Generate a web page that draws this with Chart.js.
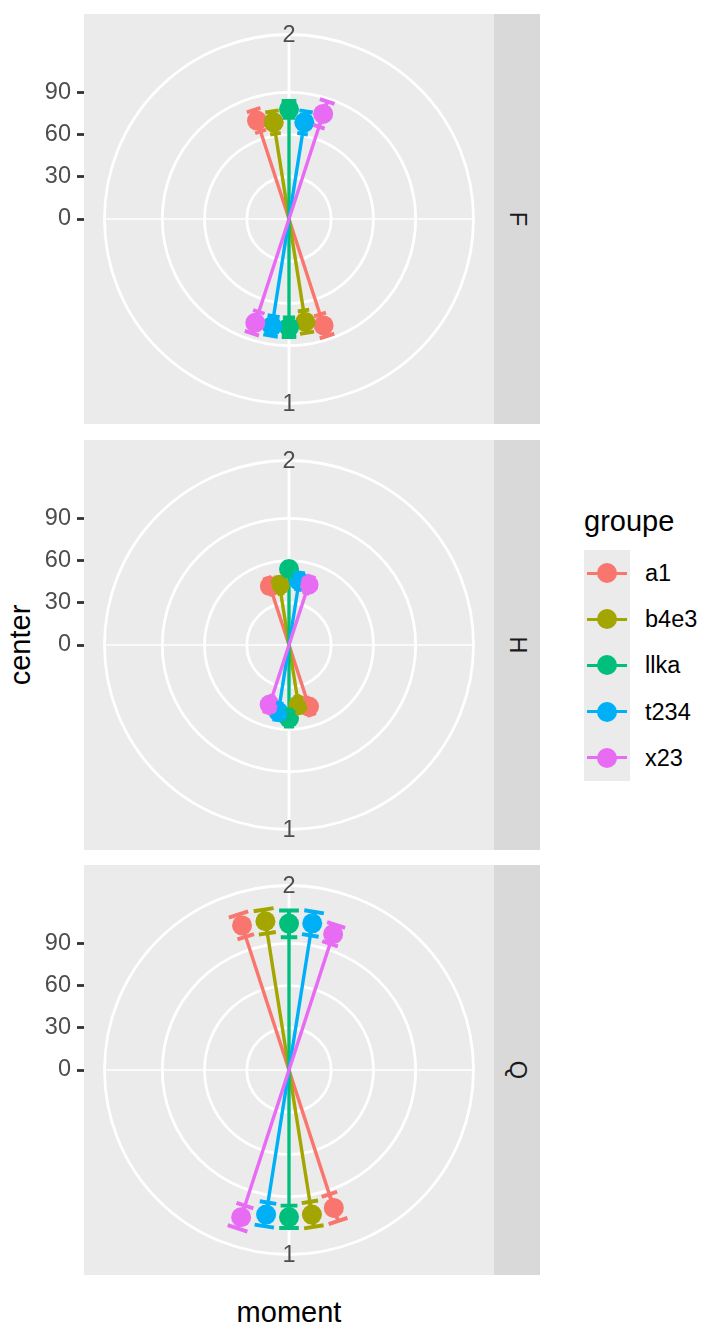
<!doctype html>
<html lang="en">
  <head>
    <meta charset="utf-8">
    <title>center by moment, polar facets</title>
    <style>
      * {
        margin: 0;
        padding: 0;
      }
      body {
        width: 702px;
        height: 1330px;
        position: relative;
        background: #ffffff;
        font-family: "Liberation Sans", Arial, sans-serif;
        overflow: hidden;
      }
      .panelBox {
        position: absolute;
        left: 40px;
        width: 454px;
        height: 410px;
      }
      .strip {
        position: absolute;
        left: 494px;
        width: 46px;
        height: 410px;
        background: #D9D9D9;
      }
      .strip span {
        position: absolute;
        left: 50%;
        top: 50%;
        font-size: 23.5px;
        line-height: 1;
        color: #1A1A1A;
        transform: translate(-50%, -50%) rotate(90deg);
      }
      .axisTitle {
        position: absolute;
        font-size: 29px;
        line-height: 1;
        color: #000000;
        white-space: nowrap;
      }
      .legendTitle {
        position: absolute;
        left: 584px;
        top: 507px;
        font-size: 29px;
        line-height: 1;
        color: #000000;
      }
      .keys {
        position: absolute;
        left: 584px;
        top: 550px;
        width: 46px;
        background: #EBEBEB;
      }
      .key {
        position: relative;
        height: 46.2px;
      }
      .key .ln {
        position: absolute;
        left: 3px;
        width: 40px;
        top: 21.5px;
        height: 3.2px;
      }
      .key .dot {
        position: absolute;
        left: 13px;
        top: 13.1px;
        width: 20px;
        height: 20px;
        border-radius: 50%;
      }
      .keyLabel {
        position: absolute;
        left: 645px;
        font-size: 23.5px;
        line-height: 46.2px;
        color: #000000;
      }
    </style>
  </head>
  <body>
    <div id="root"></div>
    <div class="axisTitle" id="yTitle" style="left:20px; top:645px; transform: translate(-50%, -50%) rotate(-90deg);">center</div>
    <div class="axisTitle" style="left:289px; top:1298px; transform: translateX(-50%);">moment</div>
    <div class="legendTitle">groupe</div>
    <div class="keys" id="keys"></div>

    <script src="https://cdn.jsdelivr.net/npm/chart.js"></script>
    <script>
    // data
    const facets = ['F', 'H', 'Q'];
    const groups = ['a1', 'b4e3', 'llka', 't234', 'x23'];
    const moments = ['1', '2'];
    const groupColors = ['#F8766D', '#A3A500', '#00BF7D', '#00B0F6', '#E76BF3'];
    const rTicks = [0, 30, 60, 90];

    // center at moment 1 and moment 2, one value per groupe
    const centerF1 = [79.5, 74, 77, 77, 77.5];
    const centerF2 = [73.5, 69.5, 78, 69.5, 78.5];
    const centerH1 = [46, 43, 52, 48, 44.5];
    const centerH2 = [44, 43, 54, 46, 45];
    const centerQ1 = [103, 104, 104.5, 104, 110];
    const centerQ2 = [108, 107, 104, 105.5, 101.5];

    // error bar half width
    const errF1 = [8, 8, 7, 7, 8];
    const errF2 = [8, 8, 6, 8, 9.5];
    const errH1 = [6, 6, 6, 6, 6];
    const errH2 = [6, 6, 5, 6, 6];
    const errQ1 = [10, 9, 8, 8.5, 8.5];
    const errQ2 = [8.3, 8.5, 9.5, 8.5, 7];

    const centers = [[centerF1, centerF2], [centerH1, centerH2], [centerQ1, centerQ2]];
    const errs = [[errF1, errF2], [errH1, errH2], [errQ1, errQ2]];
    const panelTops = [14, 440, 865];

    // polar setup
    const rMax = 116.5;                 // r limit, fills 0.4 of the panel
    const half = rMax * 1.25;           // panel half width in r units
    const outerR = rMax * 1.125;        // label circle (0.45 of panel)
    const dodgeStep = Math.PI / 20;     // dodge between groupes
    const capHalf = 0.062;              // errorbar cap half angle
    const fontFamily = '"Liberation Sans", Arial, sans-serif';

    function toXY(r, a) {
      return {x: r * Math.sin(a), y: r * Math.cos(a)};
    }
    function angleOf(mi, gi) {
      return (mi === 0 ? Math.PI : 0) + (gi - 2) * dodgeStep;
    }

    const polarGrid = {
      id: 'polarGrid',
      beforeDatasetsDraw(chart) {
        const {ctx, chartArea: area, scales: {x, y}} = chart;
        const cx = x.getPixelForValue(0);
        const cy = y.getPixelForValue(0);
        const px = r => x.getPixelForValue(r) - cx;
        const outer = px(outerR);
        ctx.save();
        ctx.fillStyle = '#EBEBEB';
        ctx.fillRect(area.left, area.top, area.width, area.height);
        ctx.strokeStyle = '#FFFFFF';
        ctx.lineWidth = 1.4;
        ctx.beginPath();
        ctx.moveTo(cx - outer, cy);
        ctx.lineTo(cx + outer, cy);
        ctx.stroke();
        ctx.lineWidth = 2.8;
        ctx.beginPath();
        ctx.moveTo(cx, cy - outer);
        ctx.lineTo(cx, cy + outer);
        ctx.stroke();
        rTicks.concat([outerR]).forEach(r => {
          if (r <= 0) return;
          ctx.beginPath();
          ctx.arc(cx, cy, px(r), 0, 2 * Math.PI);
          ctx.stroke();
        });
        ctx.fillStyle = '#4D4D4D';
        ctx.font = '23.5px ' + fontFamily;
        ctx.textAlign = 'center';
        ctx.textBaseline = 'middle';
        moments.forEach((m, mi) => {
          const p = toXY(outerR, mi === 0 ? Math.PI : 0);
          ctx.fillText(m, x.getPixelForValue(p.x), y.getPixelForValue(p.y) + 1);
        });
        ctx.restore();
      }
    };

    function facetDatasets(fi) {
      const vals = centers[fi];
      const ers = errs[fi];
      const sets = [];
      groups.forEach((g, gi) => {
        const col = groupColors[gi];
        const pts = moments.map((m, mi) => toXY(vals[mi][gi], angleOf(mi, gi)));
        sets.push({
          label: g, data: pts, showLine: true, borderColor: col,
          borderWidth: 3.4, pointRadius: 0, order: 300 + 4 - gi
        });
        sets.push({
          label: g, data: pts, showLine: false, pointRadius: 10,
          pointHoverRadius: 10, pointBackgroundColor: col, pointBorderWidth: 0,
          order: 200 + 4 - gi
        });
        const bars = [];
        moments.forEach((m, mi) => {
          const a = angleOf(mi, gi);
          const v = vals[mi][gi];
          const e = ers[mi][gi];
          bars.push(toXY(v - e, a), toXY(v + e, a), {x: null, y: null});
          [v - e, v + e].forEach(r => {
            bars.push(toXY(r, a - capHalf), toXY(r, a + capHalf), {x: null, y: null});
          });
        });
        sets.push({
          label: g, data: bars, showLine: true, spanGaps: false, borderColor: col,
          borderWidth: 3.9, pointRadius: 0, order: 100 + 4 - gi
        });
      });
      return sets;
    }

    const root = document.getElementById('root');
    facets.forEach((f, fi) => {
      const box = document.createElement('div');
      box.className = 'panelBox';
      box.style.top = panelTops[fi] + 'px';
      const canvas = document.createElement('canvas');
      box.appendChild(canvas);
      root.appendChild(box);

      const strip = document.createElement('div');
      strip.className = 'strip';
      strip.style.top = panelTops[fi] + 'px';
      strip.innerHTML = '<span>' + f + '</span>';
      root.appendChild(strip);

      new Chart(canvas, {
        type: 'scatter',
        data: {datasets: facetDatasets(fi)},
        options: {
          responsive: true,
          maintainAspectRatio: false,
          animation: false,
          events: [],
          layout: {padding: 0, autoPadding: false},
          plugins: {legend: {display: false}, tooltip: {enabled: false}},
          scales: {
            x: {type: 'linear', min: -half, max: half, display: false},
            y: {
              type: 'linear', min: -half, max: half, position: 'left',
              afterBuildTicks: s => { s.ticks = rTicks.map(v => ({value: v})); },
              afterFit: s => { s.width = 44; s.paddingTop = 0; s.paddingBottom = 0; },
              grid: {display: true, drawOnChartArea: false, drawTicks: true,
                     tickLength: 7, tickWidth: 2.8, tickColor: '#333333'},
              border: {display: false},
              ticks: {color: '#4D4D4D', padding: 6, font: {family: fontFamily, size: 23.5}}
            }
          }
        },
        plugins: [polarGrid]
      });
    });

    // legend
    const keys = document.getElementById('keys');
    groups.forEach((g, gi) => {
      const k = document.createElement('div');
      k.className = 'key';
      k.innerHTML = '<div class="ln" style="background:' + groupColors[gi] + '"></div>' +
                    '<div class="dot" style="background:' + groupColors[gi] + '"></div>';
      keys.appendChild(k);
      const lab = document.createElement('div');
      lab.className = 'keyLabel';
      lab.style.top = (550 + gi * 46.2) + 'px';
      lab.textContent = g;
      document.body.appendChild(lab);
    });
    </script>
  </body>
</html>
